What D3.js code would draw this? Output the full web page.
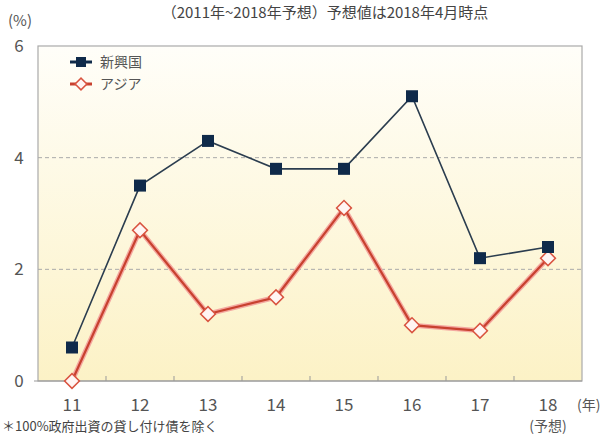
<!DOCTYPE html>
<html>
<head>
<meta charset="utf-8">
<script src="https://cdn.jsdelivr.net/npm/d3@7"></script>
<style>
  body { margin: 0; background: #fff; }
  text { font-family: "Noto Sans CJK JP", "DejaVu Sans", sans-serif; fill: #555; }
</style>
</head>
<body>
<svg id="chart" width="614" height="437"></svg>
<script>
var years = ["11", "12", "13", "14", "15", "16", "17", "18"];
var emerging = [0.6, 3.5, 4.3, 3.8, 3.8, 5.1, 2.2, 2.4];
var asia = [0.0, 2.7, 1.2, 1.5, 3.1, 1.0, 0.9, 2.2];
var yTicks = [0, 2, 4, 6];
var seriesNames = ["新興国", "アジア"];

var svg = d3.select("#chart");
var margin = {left: 38, right: 32, top: 46, bottom: 56};
var w = 614 - margin.left - margin.right;
var h = 437 - margin.top - margin.bottom;

var defs = svg.append("defs");
var grad = defs.append("linearGradient")
  .attr("id", "bg").attr("x1", 0).attr("y1", 0).attr("x2", 0).attr("y2", 1);
grad.append("stop").attr("offset", "0%").attr("stop-color", "#fffef9");
grad.append("stop").attr("offset", "100%").attr("stop-color", "#fcf2c6");

// title at the very top
svg.append("text")
  .attr("x", 325).attr("y", 18)
  .attr("text-anchor", "middle")
  .style("font-size", "15px").style("fill", "#444")
  .text("（2011年~2018年予想）予想値は2018年4月時点");

var g = svg.append("g").attr("transform", "translate(" + margin.left + "," + margin.top + ")");

var x = d3.scaleBand().domain(years).range([0, w]);
var y = d3.scaleLinear().domain([0, 6]).range([h, 0]);

g.append("rect").attr("width", w).attr("height", h)
  .attr("fill", "url(#bg)").attr("stroke", "#aaa").attr("stroke-width", 1.2);

// dashed grid
g.selectAll(".grid").data([2, 4]).enter().append("line")
  .attr("x1", 0).attr("x2", w)
  .attr("y1", y).attr("y2", y)
  .attr("stroke", "#aaa").attr("stroke-dasharray", "4,3");

// bottom axis
g.append("line").attr("x1", -4).attr("x2", w).attr("y1", h).attr("y2", h)
  .attr("stroke", "#999").attr("stroke-width", 1.2);
g.selectAll(".xtick").data(years.slice(1)).enter().append("line")
  .attr("x1", function (d) { return x(d); }).attr("x2", function (d) { return x(d); })
  .attr("y1", h).attr("y2", h - 5).attr("stroke", "#999");

g.selectAll(".xlab").data(years).enter().append("text")
  .attr("x", function (d) { return x(d) + x.bandwidth() / 2; })
  .attr("y", h + 30)
  .attr("text-anchor", "middle")
  .style("font-size", "17px")
  .text(function (d) { return d; });

g.append("text").attr("x", w - 5).attr("y", h + 29)
  .attr("text-anchor", "start").style("font-size", "14px").text("(年)");
g.append("text").attr("x", x("18") + x.bandwidth() / 2).attr("y", h + 50)
  .attr("text-anchor", "middle").style("font-size", "14px").text("(予想)");

g.selectAll(".ylab").data(yTicks).enter().append("text")
  .attr("x", -19).attr("y", function (d) { return y(d) + 6; })
  .attr("text-anchor", "middle")
  .style("font-size", "17px")
  .text(function (d) { return d; });

svg.append("text").attr("x", 8).attr("y", 26).style("font-size", "15px").text("(%)");

// footnote along the bottom edge
svg.append("text").attr("x", 2).attr("y", 431)
  .style("font-size", "13px").style("fill", "#444")
  .text("＊100%政府出資の貸し付け債を除く");

var cx = function (d, i) { return x(years[i]) + x.bandwidth() / 2; };
var line = d3.line().x(cx).y(function (d) { return y(d); });

// アジア
g.append("path").datum(asia).attr("d", line)
  .attr("fill", "none").attr("stroke", "#f4a8a0").attr("stroke-width", 5);
g.append("path").datum(asia).attr("d", line)
  .attr("fill", "none").attr("stroke", "#c8412f").attr("stroke-width", 2.2);

// 新興国
g.append("path").datum(emerging).attr("d", line)
  .attr("fill", "none").attr("stroke", "#2b3d4f").attr("stroke-width", 1.6);

var diamond = d3.symbol().type(d3.symbolSquare).size(110);
g.selectAll(".asia").data(asia).enter().append("path")
  .attr("d", diamond)
  .attr("transform", function (d, i) { return "translate(" + cx(d, i) + "," + y(d) + ") rotate(45)"; })
  .attr("fill", "#fff5f3").attr("stroke", "#d9533f").attr("stroke-width", 1.5);

g.selectAll(".emg").data(emerging).enter().append("rect")
  .attr("x", function (d, i) { return cx(d, i) - 6; })
  .attr("y", function (d) { return y(d) - 6; })
  .attr("width", 12).attr("height", 12)
  .attr("fill", "#0f2a4a");

// legend
var leg = svg.append("g").attr("transform", "translate(70,62)");
leg.append("line").attr("x1", 0).attr("x2", 22).attr("y1", 0).attr("y2", 0)
  .attr("stroke", "#0f2a4a").attr("stroke-width", 3);
leg.append("rect").attr("x", 6).attr("y", -5).attr("width", 10).attr("height", 10).attr("fill", "#0f2a4a");
leg.append("text").attr("x", 30).attr("y", 5).style("font-size", "14px").text(seriesNames[0]);

leg.append("line").attr("x1", 0).attr("x2", 22).attr("y1", 22).attr("y2", 22)
  .attr("stroke", "#c8412f").attr("stroke-width", 3);
leg.append("path").attr("d", d3.symbol().type(d3.symbolSquare).size(70))
  .attr("transform", "translate(11,22) rotate(45)")
  .attr("fill", "#fff5f3").attr("stroke", "#d9533f").attr("stroke-width", 1.5);
leg.append("text").attr("x", 30).attr("y", 27).style("font-size", "14px").text(seriesNames[1]);
</script>
</body>
</html>
